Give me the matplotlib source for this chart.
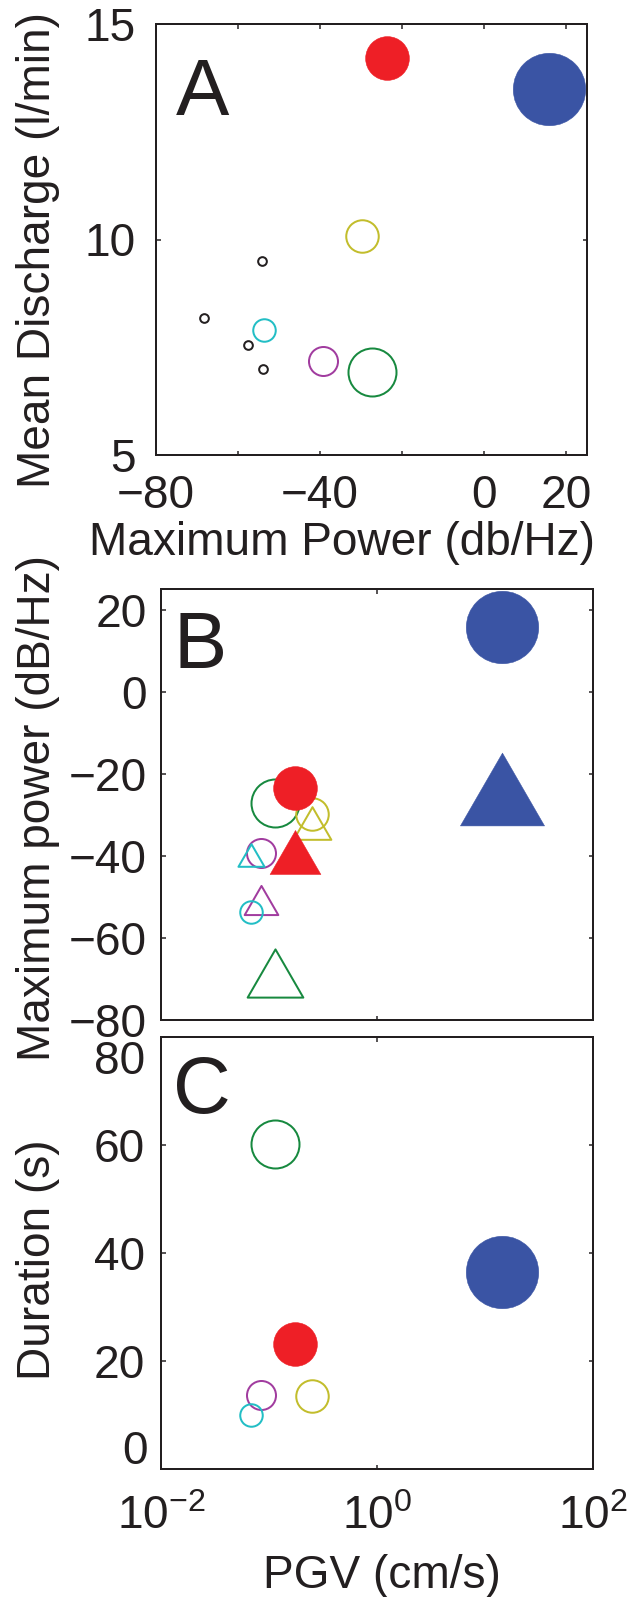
import matplotlib
matplotlib.use("Agg")
import matplotlib.pyplot as plt
from matplotlib.path import Path
from matplotlib.ticker import NullLocator

plt.rcParams["font.family"] = ["Liberation Sans", "DejaVu Sans"]
plt.rcParams["mathtext.fontset"] = "custom"
plt.rcParams["mathtext.rm"] = "Liberation Sans"
plt.rcParams["mathtext.it"] = "Liberation Sans:italic"
plt.rcParams["mathtext.bf"] = "Liberation Sans:bold"

# ---- data -------------------------------------------------------------
# events with discharge, spectral power, PGV and duration
events = ["green", "yellow", "purple", "cyan", "red", "blue"]
max_power = [-27.2, -29.7, -39.2, -53.6, -23.6, 15.7]        # dB/Hz (circles)
max_power_tri = [-68.5, -32.1, -50.7, -39.8, -39.0, -23.8]   # dB/Hz (triangles)
pgv = [0.114, 0.248, 0.084, 0.0676, 0.175, 14.3]             # cm/s
mean_discharge = [6.93, 10.08, 7.17, 7.91, 14.2, 13.5]       # l/min
duration = [60.3, 13.5, 13.7, 9.95, 23.05, 36.5]             # s

# events with discharge and power only
extra_power = [-54.1, -68.3, -57.4, -53.8]
extra_discharge = [9.49, 8.17, 7.56, 6.99]

# tick layout
a_xticks = [-80, -60, -40, -20, 0, 20]
a_xticklabels = ["\u221280", "", "\u221240", "", "0", "20"]
a_yticks = [5, 10, 15]
b_yticks = [-80, -60, -40, -20, 0, 20]
c_yticks = [0, 20, 40, 60, 80]
c_yticklabels = ["", "20", "40", "60", ""]
pgv_ticks = [1e-2, 1e0, 1e2]

# ---- styles -----------------------------------------------------------
colors = {"green": "#17893f", "yellow": "#c2bd2c", "purple": "#a13c9f",
          "cyan": "#22bec5", "red": "#ee1f26", "blue": "#3a54a4",
          "black": "#231f20"}
filled = {"red", "blue"}
msize = {"green": 48, "yellow": 32.5, "purple": 29, "cyan": 22.5,
         "red": 43.8, "blue": 72.5, "black": 8.7}
TRI_SCALE = 1.16
txt = "#231f20"

tri = Path([(-1, -0.866), (1, -0.866), (0, 0.866), (-1, -0.866)],
           [Path.MOVETO, Path.LINETO, Path.LINETO, Path.CLOSEPOLY])

W, H = 631, 1597
fig = plt.figure(figsize=(W / 72, H / 72), dpi=72)


def rect(l, t, r, b):
    return [l / W, 1 - b / H, (r - l) / W, (b - t) / H]


def fpos(x, y):
    return x / W, 1 - y / H


def style_axes(ax, ypad, xpad):
    for s in ax.spines.values():
        s.set_linewidth(2)
        s.set_color(txt)
    ax.tick_params(direction="in", length=4.5, width=1.5, top=True,
                   right=True, labelsize=46, colors=txt)
    ax.tick_params(axis="y", pad=ypad)
    ax.tick_params(axis="x", pad=xpad)


def mark(ax, x, y, ev, marker="o"):
    c = colors[ev]
    ms = msize[ev] * (TRI_SCALE if marker is tri else 1)
    if ev in filled:
        ax.plot([x], [y], linestyle="none", marker=marker, ms=ms, mfc=c,
                mec=c, mew=0.5, clip_on=False)
    else:
        ax.plot([x], [y], linestyle="none", marker=marker, ms=ms,
                mfc="none", mec=c, mew=2, clip_on=False)


# ---- panel A ----------------------------------------------------------
axA = fig.add_axes(rect(155.7, 24, 586.7, 455))
for x, y in zip(extra_power, extra_discharge):
    mark(axA, x, y, "black")
for ev, x, y in zip(events, max_power, mean_discharge):
    mark(axA, x, y, ev)
axA.set_xlim(-80, 25)
axA.set_ylim(5, 15)
axA.set_xticks(a_xticks, a_xticklabels)
axA.set_yticks(a_yticks)
style_axes(axA, 20, 19)

# ---- panel B ----------------------------------------------------------
axB = fig.add_axes(rect(161, 589, 593.3, 1020))
for ev, x, y, yt in zip(events, pgv, max_power, max_power_tri):
    mark(axB, x, y, ev)
    mark(axB, x, yt, ev, tri)
axB.set_xscale("log")
axB.set_xlim(1e-2, 1e2)
axB.set_ylim(-80, 25)
axB.set_xticks(pgv_ticks)
axB.xaxis.set_minor_locator(NullLocator())
axB.set_xticklabels([])
axB.set_yticks(b_yticks)
style_axes(axB, 14, 10)

# ---- panel C ----------------------------------------------------------
axC = fig.add_axes(rect(161, 1037.3, 593, 1468.7))
for ev, x, y in zip(events, pgv, duration):
    mark(axC, x, y, ev)
axC.set_xscale("log")
axC.set_xlim(1e-2, 1e2)
axC.set_ylim(0, 80)
axC.set_xticks(pgv_ticks)
axC.xaxis.set_minor_locator(NullLocator())
axC.set_yticks(c_yticks, c_yticklabels)
style_axes(axC, 16, 26)
# end labels nudged inward so they clear the neighbouring panels
for val, dy, dx in [(c_yticks[0], 17, -13), (c_yticks[-1], -25, -16)]:
    axC.annotate(str(val), xy=(0, val), xycoords=("axes fraction", "data"),
                 xytext=(dx, dy), textcoords="offset points", ha="right",
                 va="center", fontsize=46, color=txt, annotation_clip=False)

# ---- labels -----------------------------------------------------------
lab = dict(fontsize=46, color=txt)
fig.text(*fpos(342, 555), "Maximum Power (db/Hz)", ha="center",
         va="baseline", **lab)
fig.text(*fpos(382, 1588), "PGV (cm/s)", ha="center", va="baseline", **lab)
fig.text(*fpos(50, 250), "Mean Discharge (l/min)", rotation=90,
         rotation_mode="anchor", ha="center", va="baseline", **lab)
fig.text(*fpos(50, 808), "Maximum power (dB/Hz)", rotation=90,
         rotation_mode="anchor", ha="center", va="baseline", **lab)
fig.text(*fpos(50, 1260), "Duration (s)", rotation=90,
         rotation_mode="anchor", ha="center", va="baseline", **lab)

for (x, y), s in zip([(176, 115), (173, 668), (173, 1113)], "ABC"):
    fig.text(*fpos(x, y), s, fontsize=80, color=txt, ha="left",
             va="baseline")

fig.savefig("out.png", dpi=72, facecolor="white")
